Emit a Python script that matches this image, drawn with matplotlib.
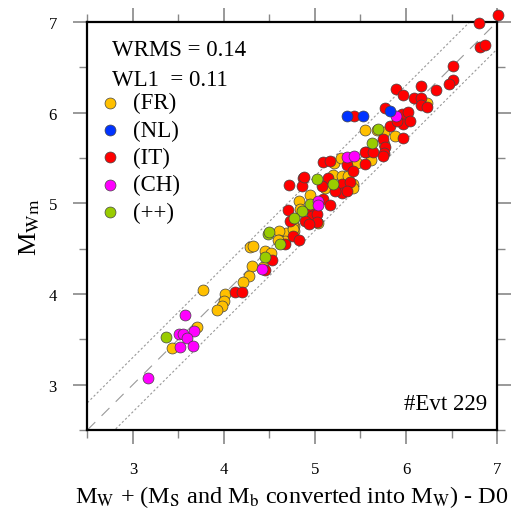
import matplotlib
matplotlib.use("Agg")
import matplotlib.pyplot as plt
import numpy as np

plt.rcParams['font.family'] = ['Liberation Serif', 'DejaVu Serif']
plt.rcParams['mathtext.fontset'] = 'stix'

# Data (x: Mw + converted, y: Mwm)
fr_x = [6.23, 5.55, 5.76, 5.88, 5.76, 5.21, 5.29, 5.46, 5.62, 5.68, 5.20, 5.11, 5.30, 5.36, 5.42, 5.42,
        4.95, 4.82, 5.03, 4.77, 4.77, 4.68, 4.60, 4.60, 4.67, 4.29, 4.32, 4.45, 4.52, 4.31, 4.43, 4.27,
        4.21, 3.77, 4.01, 4.00, 3.98, 3.92, 3.70, 3.43, 4.84, 4.96, 4.76, 4.76, 4.59]
fr_y = [6.11, 5.81, 5.79, 5.74, 5.65, 5.44, 5.50, 5.44, 5.48, 5.81, 5.31, 5.17, 5.30, 5.30, 5.21, 5.17,
        5.09, 5.02, 4.78, 4.75, 4.69, 4.67, 4.69, 4.60, 4.58, 4.52, 4.53, 4.47, 4.45, 4.31, 4.30, 4.20,
        4.13, 4.04, 4.00, 3.92, 3.87, 3.82, 3.64, 3.40, 4.94, 4.94, 4.75, 4.72, 4.60]

it_x = [7.01, 6.80, 6.81, 6.87, 6.52, 6.52, 6.47, 5.89, 5.97, 6.17, 6.33, 6.09, 6.17, 6.17, 6.23, 5.77,
        5.43, 5.96, 6.02, 5.97, 5.82, 6.04, 5.90, 5.97, 5.75, 5.77, 5.76, 5.56, 5.75, 5.09, 5.16, 5.55,
        5.64, 5.55, 5.35, 5.42, 4.72, 4.87, 4.86, 5.14, 5.30, 5.30, 5.39, 5.09, 5.16, 4.70, 4.95, 4.97,
        5.02, 5.02, 4.73, 4.89, 4.93, 4.76, 4.82, 4.67, 4.53, 4.45, 4.12, 4.20, 4.88, 5.08, 5.35, 5.22]
it_y = [7.08, 6.99, 6.72, 6.75, 6.51, 6.36, 6.32, 6.26, 6.19, 6.29, 6.25, 6.16, 6.16, 6.08, 6.06, 6.05,
        5.96, 5.98, 6.01, 5.87, 5.85, 5.91, 5.91, 5.72, 5.71, 5.62, 5.55, 5.57, 5.52, 5.45, 5.47, 5.57,
        5.57, 5.43, 5.42, 5.36, 5.20, 5.28, 5.19, 5.28, 5.21, 5.11, 5.23, 5.05, 4.98, 4.93, 4.94, 4.86,
        4.88, 4.79, 4.81, 4.81, 4.77, 4.64, 4.60, 4.55, 4.37, 4.26, 4.02, 4.02, 5.29, 5.19, 5.13, 5.13]

nl_x = [5.35, 5.53, 5.82]
nl_y = [5.96, 5.96, 6.02]

ch_x = [5.89, 5.35, 5.43, 5.03, 5.03, 4.42, 3.57, 3.67, 3.51, 3.55, 3.59, 3.52, 3.66, 3.17]
ch_y = [5.96, 5.51, 5.52, 5.02, 4.98, 4.28, 3.77, 3.59, 3.56, 3.56, 3.51, 3.42, 3.43, 3.07]

pp_x = [5.69, 5.63, 5.02, 5.20, 4.95, 4.86, 4.77, 4.48, 4.49, 4.62, 4.45, 3.36]
pp_y = [5.82, 5.67, 5.27, 5.21, 4.99, 4.91, 4.84, 4.66, 4.68, 4.55, 4.41, 3.53]

series = [("(FR)", fr_x, fr_y, "#FFC000"),
          ("(IT)", it_x, it_y, "#FF0000"),
          ("(++)", pp_x, pp_y, "#99CC00"),
          ("(CH)", ch_x, ch_y, "#FF00FF"),
          ("(NL)", nl_x, nl_y, "#0033FF")]
legend_order = ["(FR)", "(NL)", "(IT)", "(CH)", "(++)"]
colors = {s[0]: s[3] for s in series}

fig = plt.figure(figsize=(5.14, 5.10), dpi=100)
ax = fig.add_axes([0.170, 0.155, 0.797, 0.800])
ax.set_xlim(2.5, 7.0)
ax.set_ylim(2.5, 7.0)

line = np.array([2.5, 7.0])
ax.plot(line, line, color="#999999", lw=0.8, ls=(0, (10, 8)), zorder=1)
ax.plot(line, line + 0.3, color="#999999", lw=0.8, ls=(0, (2, 2)), zorder=1)
ax.plot(line, line - 0.3, color="#999999", lw=0.8, ls=(0, (2, 2)), zorder=1)

for name, xs, ys, c in series:
    ax.scatter(xs, ys, s=62, c=c, edgecolors="#444444", linewidths=0.5, zorder=3, clip_on=False)

for sp in ax.spines.values():
    sp.set_linewidth(1.6)

ax.set_xticks([3, 4, 5, 6, 7])
ax.set_yticks([3, 4, 5, 6, 7])
ax.set_xticks(np.arange(2.5, 7.01, 0.5), minor=True)
ax.set_yticks(np.arange(2.5, 7.01, 0.5), minor=True)
ax.tick_params(which="both", direction="out", top=True, right=True, color="#888888")
ax.tick_params(which="major", length=10, width=1.2, labelsize=12, pad=12)
ax.tick_params(which="minor", length=6, width=1.0)

ax.set_xlabel(r"M$_{\rm W}$ + (M$_{\rm S}$ and M$_{\rm b}$ converted into M$_{\rm W}$) - D0", fontsize=17.5, labelpad=5)
ax.set_ylabel(r"M$_{\rm Wm}$", fontsize=19, labelpad=5)

tr = ax.transAxes
ax.text(0.06, 0.932, "WRMS = 0.14", transform=tr, fontsize=16.5, va="center", ha="left")
ax.text(0.06, 0.860, "WL1  = 0.11", transform=tr, fontsize=16.5, va="center", ha="left")
for i, name in enumerate(legend_order):
    yy = 0.802 - i * 0.067
    ax.scatter([0.055], [yy], s=62, c=colors[name], edgecolors="#444444", linewidths=0.5,
               transform=tr, zorder=4, clip_on=False)
    ax.text(0.112, yy, name, transform=tr, fontsize=16.5, va="center", ha="left")

ax.text(0.975, 0.066, "#Evt 229", transform=tr, fontsize=16.5, va="center", ha="right")

fig.savefig("out.png", dpi=100)
